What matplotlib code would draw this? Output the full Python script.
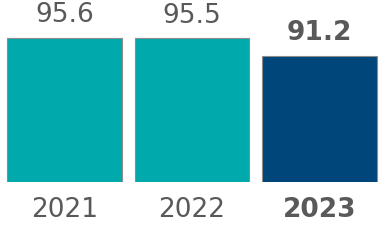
import matplotlib
matplotlib.use("Agg")
import matplotlib.pyplot as plt

years = ["2021", "2022", "2023"]
values = [95.6, 95.5, 91.2]
colors = ["#00A9AC", "#00A9AC", "#00467A"]
bold = [False, False, True]

fig = plt.figure(figsize=(3.85, 2.45), dpi=100)
ax = fig.add_axes([0, 63 / 245, 1, 182 / 245])

x = range(len(years))
bars = ax.bar(x, values, width=0.9, color=colors, edgecolor="#8c8c8c", linewidth=0.8)

ax.set_xlim(-0.505, 2.513)
ax.set_ylim(60.2, 104.9)

for xi, v, b in zip(x, values, bold):
    ax.annotate(f"{v:.1f}", (xi, v), xytext=(0, 7), textcoords="offset points",
                ha="center", va="bottom", fontsize=19, color="#595959",
                fontweight="bold" if b else "normal")

ax.set_xticks(list(x))
ax.set_xticklabels(years, fontsize=19, color="#595959")
for lbl, b in zip(ax.get_xticklabels(), bold):
    if b:
        lbl.set_fontweight("bold")
ax.tick_params(axis="x", length=0, pad=11)
ax.set_yticks([])
for s in ax.spines.values():
    s.set_visible(False)

fig.savefig("out.png", dpi=100)
